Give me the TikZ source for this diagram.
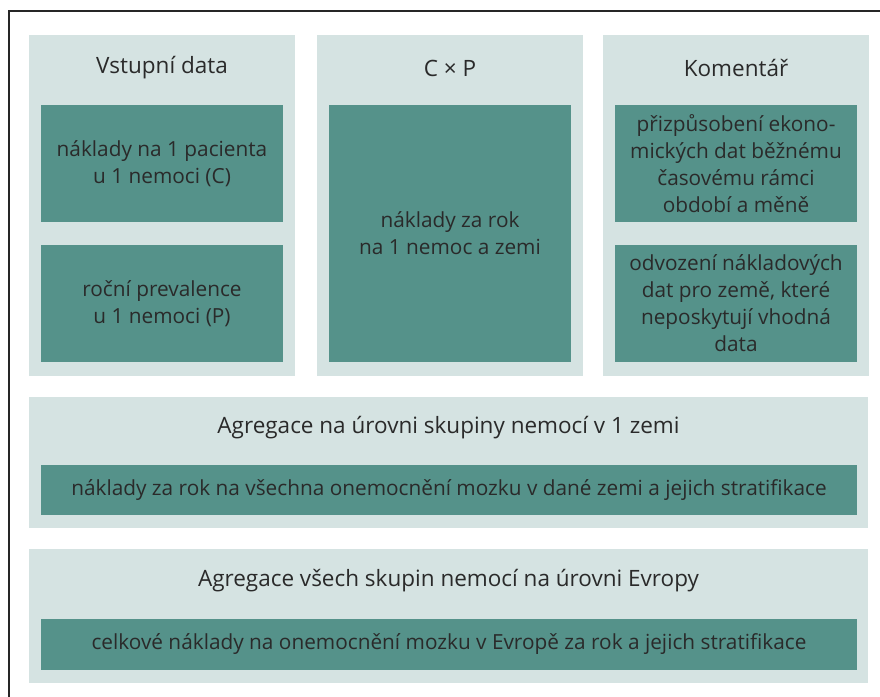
\documentclass[tikz,border=0pt]{standalone}
\usepackage{fontspec}
\setmainfont{Open Sans}
\definecolor{hell}{HTML}{D5E3E2}
\definecolor{dunkel}{HTML}{55928A}
\definecolor{schrift}{HTML}{2A2A2A}
\begin{document}
\begin{tikzpicture}[x=1pt,y=-1pt,
    panel/.style={fill=hell,inner sep=0pt,minimum width=266pt},
    kasten/.style={fill=dunkel,inner sep=0pt,text=schrift,align=center,
      font=\fontsize{20.8}{27}\selectfont,minimum width=242pt,minimum height=117pt},
    titel/.style={text=schrift,font=\fontsize{22.5}{27}\selectfont}]
  \useasboundingbox (0,0) rectangle (880,696);

  % Rahmen
  \draw[line width=1.3pt,black!85] (9,700) -- (9,11) -- (884,11);

  % Spalten
  \node[panel,minimum height=341pt] (p1) at (162,205.5) {};
  \node[panel,minimum height=341pt] (p2) at (450,205.5) {};
  \node[panel,minimum height=341pt] (p3) at (736,205.5) {};

  \node[titel] (t1) at (162,68) {Vstupní data};
  \node[titel] (t2) at (450,68) {C × P};
  \node[titel] (t3) at (736,68) {Komentář};

  \node[kasten] (c) at (162,163.5) {náklady na 1 pacienta\\u 1 nemoci (C)};
  \node[kasten] (p) at (162,303.5) {roční prevalence\\u 1 nemoci (P)};
  \node[kasten,minimum height=257pt] (cp) at (450,233.5) {náklady za rok\\na 1 nemoc a zemi};
  \node[kasten] (k1) at (736,163.5) {přizpůsobení ekono-\\mických dat běžnému\\časovému rámci\\období a měně};
  \node[kasten] (k2) at (736,303.5) {odvození nákladových\\dat pro země, které\\neposkytují vhodná\\data};

  % Aggregation
  \node[panel,minimum width=839pt,minimum height=131pt] (a1) at (448.5,462.5) {};
  \node[titel] (ta1) at (448.5,428) {Agregace na úrovni skupiny nemocí v 1 zemi};
  \node[kasten,minimum width=816pt,minimum height=50pt] (s1) at (449,490)
    {náklady za rok na všechna onemocnění mozku v dané zemi a jejich stratifikace};

  \node[panel,minimum width=839pt,minimum height=134pt] (a2) at (448.5,616) {};
  \node[titel] (ta2) at (448.5,581) {Agregace všech skupin nemocí na úrovni Evropy};
  \node[kasten,minimum width=816pt,minimum height=51pt] (s2) at (449,644.5)
    {celkové náklady na onemocnění mozku v Evropě za rok a jejich stratifikace};
\end{tikzpicture}
\end{document}
